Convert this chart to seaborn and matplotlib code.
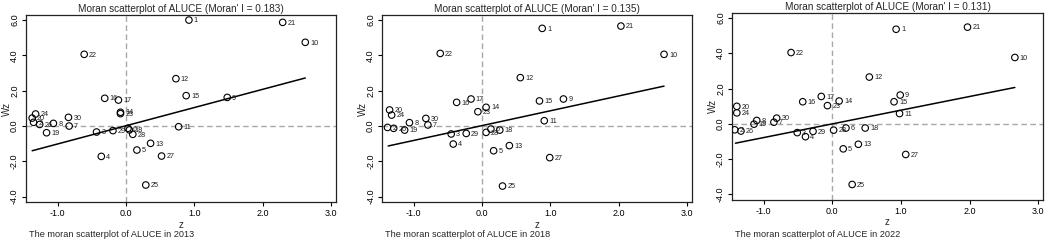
import numpy as np
import pandas as pd
import matplotlib
matplotlib.use("Agg")
import matplotlib.pyplot as plt
import seaborn as sns

# region ids 1..30
ids = list(range(1, 31))

z_2013 = [0.92, -1.35, -0.43, -0.36, 0.16, 0.03, -0.83, -1.06, 1.48, 2.62,
          0.77, 0.73, 0.36, -0.08, 0.88, -0.31, -0.11, 0.05, -1.16, -1.37,
          2.29, -0.61, -0.08, -1.32, 0.29, -1.26, 0.52, 0.10, -0.19, -0.84]
wz_2013 = [6.00, 0.21, -0.34, -1.72, -1.36, -0.13, 0.00, 0.15, 1.62, 4.74,
           -0.04, 2.68, -0.98, 0.78, 1.72, 1.57, 1.47, -0.22, -0.38, 0.45,
           5.87, 4.06, 0.70, 0.68, -3.34, 0.09, -1.70, -0.47, -0.26, 0.49]
fit_z_2013 = [-1.37, 2.62]
fit_wz_2013 = [-1.40, 2.72]

z_2018 = [0.88, -1.38, -0.45, -0.42, 0.17, 0.13, -0.79, -1.06, 1.19, 2.66,
          0.91, 0.56, 0.40, 0.06, 0.84, -0.37, -0.16, 0.26, -1.13, -1.35,
          2.03, -0.61, -0.06, -1.32, 0.30, -1.29, 0.99, 0.06, -0.23, -0.82]
wz_2018 = [5.53, -0.08, -0.45, -1.02, -1.40, -0.17, 0.06, 0.19, 1.53, 4.06,
           0.30, 2.74, -1.11, 1.06, 1.42, 1.34, 1.53, -0.23, -0.23, 0.91,
           5.66, 4.11, 0.81, 0.62, -3.40, -0.13, -1.79, -0.36, -0.42, 0.43]
fit_z_2018 = [-1.37, 2.66]
fit_wz_2018 = [-1.13, 2.26]

z_2022 = [0.93, -1.42, -0.51, -0.39, 0.16, 0.20, -0.85, -1.10, 0.99, 2.66,
          0.98, 0.54, 0.38, 0.10, 0.90, -0.43, -0.16, 0.48, -1.14, -1.39,
          1.97, -0.60, -0.07, -1.39, 0.29, -1.33, 1.07, 0.02, -0.28, -0.81]
wz_2022 = [5.36, -0.34, -0.50, -0.73, -1.42, -0.24, 0.09, 0.19, 1.63, 3.76,
           0.58, 2.65, -1.16, 1.29, 1.25, 1.25, 1.55, -0.24, -0.02, 0.99,
           5.48, 4.04, 1.03, 0.62, -3.44, -0.41, -1.74, -0.36, -0.43, 0.32]
fit_z_2022 = [-1.41, 2.66]
fit_wz_2022 = [-1.10, 2.06]

years = ["2013", "2018", "2022"]
moran_i = ["0.183", "0.135", "0.131"]

sns.set_theme(style="ticks")
plt.rcParams['font.family'] = ['Liberation Sans', 'DejaVu Sans']

fig = plt.figure(figsize=(10.45, 2.42), dpi=100)

panels = [
    (z_2013, wz_2013, fit_z_2013, fit_wz_2013, [0.0249, 0.164, 0.2967, 0.775]),
    (z_2018, wz_2018, fit_z_2018, fit_wz_2018, [0.3656, 0.164, 0.2967, 0.775]),
    (z_2022, wz_2022, fit_z_2022, fit_wz_2022, [0.7005, 0.1736, 0.2976, 0.774]),
]

for k, (z, wz, fz, fwz, pos) in enumerate(panels):
    ax = fig.add_axes(pos)
    df = pd.DataFrame({"id": ids, "z": z, "wz": wz})
    fit = pd.DataFrame({"z": fz, "wz": fwz})

    ax.axhline(0, color="#a8a8a8", lw=1.0, ls=(0, (4, 2.5)), zorder=1)
    ax.axvline(0, color="#a8a8a8", lw=1.0, ls=(0, (4, 2.5)), zorder=1)
    sns.lineplot(data=fit, x="z", y="wz", ax=ax, color="black", lw=1.1, zorder=2)
    sns.scatterplot(data=df, x="z", y="wz", ax=ax, s=22, facecolor="none",
                    edgecolor="black", linewidth=0.8, zorder=3)
    for _, r in df.iterrows():
        ax.annotate(str(int(r["id"])), (r["z"], r["wz"]), xytext=(3.5, -0.5),
                    textcoords="offset points", fontsize=5.2, va="center",
                    ha="left", color="#202020")

    ax.set_xlim(-1.46, 3.07)
    ax.set_ylim(-4.32, 6.3)
    ax.set_xticks([-1.0, 0.0, 1.0, 2.0, 3.0])
    ax.set_yticks([-4.0, -2.0, 0.0, 2.0, 4.0, 6.0])
    ax.set_xticklabels(["%.1f" % v for v in ax.get_xticks()], fontsize=6.5)
    ax.set_yticklabels(["%.1f" % v for v in ax.get_yticks()], fontsize=6.5,
                       rotation=90, va="center")
    ax.tick_params(length=3, width=0.8, pad=2, colors="black")
    for sp in ax.spines.values():
        sp.set_linewidth(0.9)
        sp.set_color("#222222")
    ax.set_xlabel("z", fontsize=7, labelpad=1)
    ax.set_ylabel("Wz", fontsize=7)
    ax.yaxis.set_label_coords(-0.045, 0.5)
    ax.set_title("Moran scatterplot of ALUCE (Moran' I = %s)" % moran_i[k],
                 fontsize=7.2, pad=2)
    fig.text(pos[0] + 0.003, 0.012, "The moran scatterplot of ALUCE in %s" % years[k],
             fontsize=6.6, ha="left", va="bottom")

fig.savefig("out.png", dpi=100, facecolor="white")
